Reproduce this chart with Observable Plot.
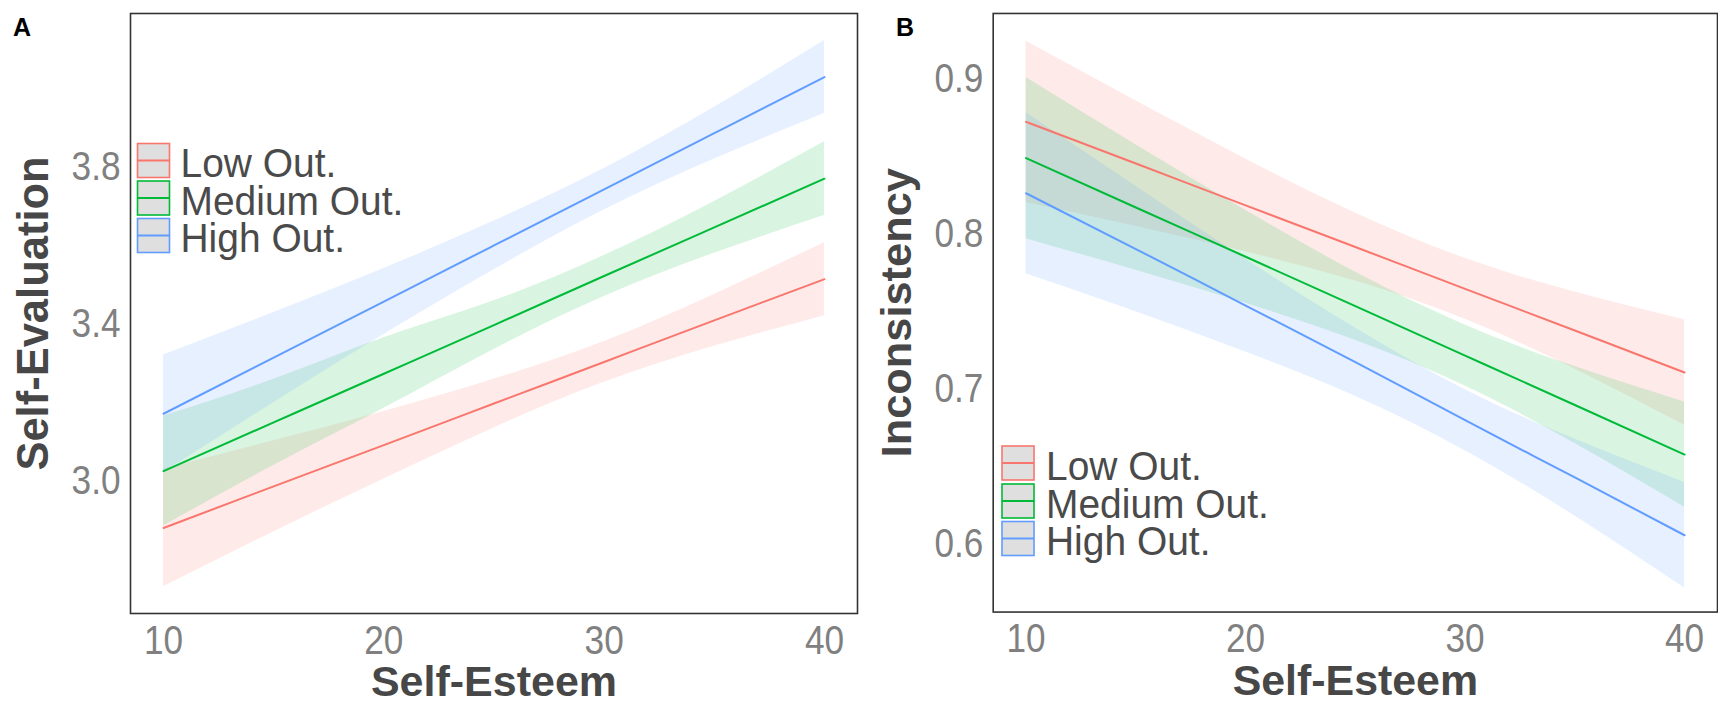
<!DOCTYPE html>
<html>
<head>
<meta charset="utf-8">
<script src="https://cdn.jsdelivr.net/npm/d3@7"></script>
<script src="https://cdn.jsdelivr.net/npm/@observablehq/plot@0.6"></script>
<style>
  html, body { margin: 0; padding: 0; background: #fff; overflow: hidden; }
  #page { position: relative; width: 1718px; height: 706px; overflow: hidden; background: #fff; }
  .panel { position: absolute; top: 0; }
  .tag { position: absolute; font-family: "Liberation Sans", Arial, sans-serif; font-weight: bold; font-size: 25px; line-height: 25px; color: #000; z-index: 5; }
  #legend { position: absolute; left: 0; top: 0; pointer-events: none; }
</style>
</head>
<body>
<div id="page">
  <div id="panelA" class="panel" style="left:0px"></div>
  <div id="panelB" class="panel" style="left:860px"></div>
  <div class="tag" style="left:13px; top:15px">A</div>
  <div class="tag" style="left:896px; top:15px">B</div>
</div>
<script>
// ---------- data ----------
const seX = [10, 15, 20, 25, 30, 35, 40];          // Self-Esteem
const groups = ["Low Out.", "Medium Out.", "High Out."];
const colors = ["#F8766D", "#00BA38", "#619CFF"];
const xTicks = [10, 20, 30, 40];

// Panel A: Self-Evaluation
const evalTicks = [3.0, 3.4, 3.8];
const evalLowFit = [2.881, 2.987, 3.092, 3.198, 3.304, 3.410, 3.515];
const evalLowLo  = [2.731, 2.871, 3.006, 3.136, 3.252, 3.344, 3.422];
const evalLowHi  = [3.031, 3.103, 3.178, 3.260, 3.356, 3.476, 3.608];
const evalMedFit = [3.026, 3.150, 3.274, 3.398, 3.523, 3.647, 3.771];
const evalMedLo  = [2.886, 3.040, 3.186, 3.336, 3.471, 3.581, 3.677];
const evalMedHi  = [3.166, 3.260, 3.366, 3.460, 3.575, 3.713, 3.865];
const evalHighFit = [3.172, 3.315, 3.458, 3.601, 3.744, 3.887, 4.030];
const evalHighLo  = [3.022, 3.200, 3.374, 3.539, 3.691, 3.821, 3.937];
const evalHighHi  = [3.322, 3.430, 3.542, 3.663, 3.797, 3.953, 4.123];

// Panel B: Inconsistency
const incTicks = [0.6, 0.7, 0.8, 0.9];
const incLowFit = [0.8726, 0.8457, 0.8187, 0.7918, 0.7648, 0.7379, 0.7108];
const incLowLo  = [0.8206, 0.8052, 0.7887, 0.7698, 0.7451, 0.7131, 0.6768];
const incLowHi  = [0.9246, 0.8862, 0.8487, 0.8138, 0.7845, 0.7627, 0.7448];
const incMedFit = [0.8492, 0.8173, 0.7855, 0.7536, 0.7217, 0.6898, 0.6578];
const incMedLo  = [0.7972, 0.7768, 0.7555, 0.7316, 0.7020, 0.6650, 0.6238];
const incMedHi  = [0.9012, 0.8578, 0.8155, 0.7756, 0.7414, 0.7146, 0.6918];
const incHighFit = [0.8265, 0.7905, 0.7540, 0.7175, 0.6800, 0.6430, 0.6057];
const incHighLo  = [0.7745, 0.7500, 0.7240, 0.6955, 0.6603, 0.6182, 0.5717];
const incHighHi  = [0.8785, 0.8310, 0.7840, 0.7395, 0.6997, 0.6678, 0.6397];

// ---------- build tables ----------
function rowsFor(series) {
  const out = [];
  series.forEach(([g, fit, lo, hi]) => {
    seX.forEach((x, i) => out.push({group: g, x, fit: fit[i], lo: lo[i], hi: hi[i]}));
  });
  return out;
}
const rowsA = rowsFor([
  [groups[0], evalLowFit, evalLowLo, evalLowHi],
  [groups[1], evalMedFit, evalMedLo, evalMedHi],
  [groups[2], evalHighFit, evalHighLo, evalHighHi]
]);
const rowsB = rowsFor([
  [groups[0], incLowFit, incLowLo, incLowHi],
  [groups[1], incMedFit, incMedLo, incMedHi],
  [groups[2], incHighFit, incHighLo, incHighHi]
]);

const FONT = '"Liberation Sans", Arial, Helvetica, sans-serif';

function panel({rows, yDomain, yTicks, yLabel, width, marginLeft, marginRight}) {
  const chart = Plot.plot({
    width, height: 706,
    marginTop: 13, marginBottom: 93, marginLeft, marginRight,
    x: {domain: [8.5, 41.5]},
    y: {domain: yDomain},
    color: {domain: groups, range: colors},
    style: {fontFamily: FONT, background: "transparent", overflow: "visible"},
    marks: [
      Plot.areaY(rows, {x: "x", y1: "lo", y2: "hi", z: "group", fill: "group", fillOpacity: 0.15, curve: "natural"}),
      Plot.lineY(rows, {x: "x", y: "fit", z: "group", stroke: "group", strokeWidth: 2, curve: "natural"}),
      Plot.frame({stroke: "#333", strokeWidth: 1.6}),
      Plot.axisX({ticks: xTicks, tickSize: 0, tickPadding: 12, fontSize: 40, color: "#808080", label: null}),
      Plot.axisY({ticks: yTicks, tickFormat: d3.format(".1f"), tickSize: 0, tickPadding: 10, fontSize: 40, color: "#808080", label: null}),
      Plot.text(["Self-Esteem"], {text: d => d, frameAnchor: "bottom", dy: 69, lineAnchor: "middle", textAnchor: "middle",
        fontSize: 43, fontWeight: "bold", fill: "#474747"}),
      Plot.text([yLabel], {text: d => d, frameAnchor: "left", dx: -96, rotate: -90, lineAnchor: "middle", textAnchor: "middle",
        fontSize: 43.5, fontWeight: "bold", fill: "#474747"})
    ]
  });
  // narrow the tick labels horizontally, as in the reference
  d3.select(chart).selectAll('g[aria-label="x-axis tick label"] text, g[aria-label="y-axis tick label"] text')
    .each(function() {
      const t = this.getAttribute("transform") || "";
      this.setAttribute("transform", t + " scale(0.88,1)");
    });
  return chart;
}

document.getElementById("panelA").append(panel({
  rows: rowsA, yDomain: [2.663, 4.192], yTicks: evalTicks, yLabel: "Self-Evaluation",
  width: 860, marginLeft: 130, marginRight: 3
}));
document.getElementById("panelB").append(panel({
  rows: rowsB, yDomain: [0.5561, 0.9426], yTicks: incTicks, yLabel: "Inconsistency",
  width: 860, marginLeft: 133, marginRight: 1
}));

// ---------- in-panel legends ----------
const svg = d3.select("#page").append("svg")
  .attr("id", "legend").attr("width", 1718).attr("height", 706);
function legend(keyX, textX, tops) {
  groups.forEach((g, i) => {
    const top = tops[i];
    svg.append("rect").attr("x", keyX).attr("y", top).attr("width", 32).attr("height", 34)
      .attr("fill", "#dfdfdf").attr("stroke", colors[i]).attr("stroke-width", 1.6);
    svg.append("line").attr("x1", keyX).attr("x2", keyX + 32).attr("y1", top + 17).attr("y2", top + 17)
      .attr("stroke", colors[i]).attr("stroke-width", 2);
    svg.append("text").attr("transform", `translate(${textX},${top + 33.5}) scale(0.95,1)`).text(g)
      .attr("font-family", FONT).attr("font-size", 41).attr("fill", "#4a4a4a");
  });
}
legend(137.5, 180.5, [143.5, 181, 218.5]);
legend(1002, 1046, [446, 484, 521.5]);
</script>
</body>
</html>
